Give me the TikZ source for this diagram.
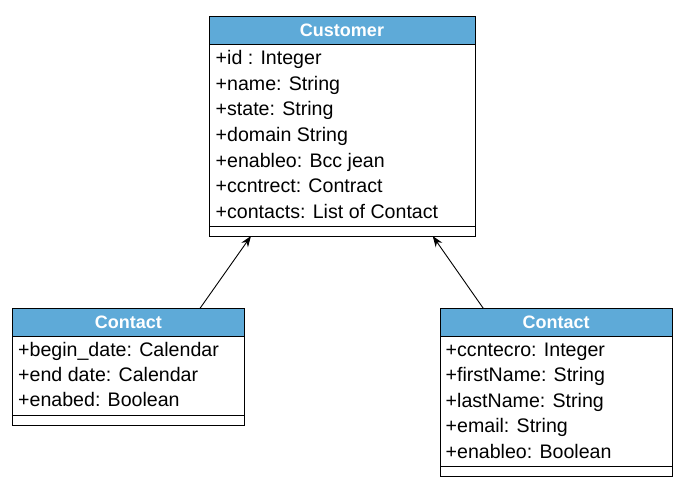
\documentclass[tikz,border=0pt]{standalone}
\usepackage{fontspec}
\setmainfont{Liberation Sans}
\usetikzlibrary{arrows.meta}
\definecolor{hdr}{RGB}{94,170,216}
\tikzset{
  box/.style={draw=black, line width=0.9pt, inner sep=0pt, outer sep=0pt},
  hdrbox/.style={box, fill=hdr, text=white, font=\fontsize{18}{20}\selectfont\bfseries},
  attr/.style={anchor=base west, inner sep=0pt, font=\fontsize{19.6}{22}\selectfont},
  inherit/.style={draw=black, line width=0.9pt, -{Stealth[length=11pt,width=8pt]}}
}
\begin{document}
\begin{tikzpicture}[x=1pt,y=-1pt]
\useasboundingbox (0,0) rectangle (682,484);
% Customer
\node[hdrbox, minimum width=266pt, minimum height=27.5pt] (ch) at (342,30.25) {Customer};
\node[box, minimum width=266pt, minimum height=182pt, anchor=north] (ca) at (ch.south) {};
\node[box, minimum width=266pt, minimum height=10pt, anchor=north] (cm) at (ca.south) {};
\node[attr] (c1) at (215.5,65) {+id : Integer};
\node[attr] (c2) at (215.5,90.5) {+name: String};
\node[attr] (c3) at (215.5,116) {+state: String};
\node[attr] (c4) at (215.5,141.5) {+domain String};
\node[attr] (c5) at (215.5,167) {+enableo: Bcc jean};
\node[attr] (c6) at (215.5,192.5) {+ccntrect: Contract};
\node[attr] (c7) at (215.5,218) {+contacts: List of Contact};
% Left Contact
\node[hdrbox, minimum width=232pt, minimum height=27.7pt] (lh) at (128.3,322.2) {Contact};
\node[box, minimum width=232pt, minimum height=79pt, anchor=north] (la) at (lh.south) {};
\node[box, minimum width=232pt, minimum height=10pt, anchor=north] (lm) at (la.south) {};
\node[attr] (l1) at (18,356) {+begin\_date: Calendar};
\node[attr] (l2) at (18,381.4) {+end date: Calendar};
\node[attr] (l3) at (18,406.8) {+enabed: Boolean};
% Right Contact
\node[hdrbox, minimum width=232.3pt, minimum height=27.7pt] (rh) at (556.2,322.2) {Contact};
\node[box, minimum width=232.3pt, minimum height=130pt, anchor=north] (ra) at (rh.south) {};
\node[box, minimum width=232.3pt, minimum height=10pt, anchor=north] (rm) at (ra.south) {};
\node[attr] (r1) at (445.5,356.5) {+ccntecro: Integer};
\node[attr] (r2) at (445.5,381.9) {+firstName: String};
\node[attr] (r3) at (445.5,407.3) {+lastName: String};
\node[attr] (r4) at (445.5,432.7) {+email: String};
\node[attr] (r5) at (445.5,458.1) {+enableo: Boolean};
% Inheritance arrows
\draw[inherit] ([xshift=71.7pt]lh.north) -- ([xshift=42pt]cm.south west);
\draw[inherit] ([xshift=-72.9pt]rh.north) -- ([xshift=-42.3pt]cm.south east);
\end{tikzpicture}
\end{document}
